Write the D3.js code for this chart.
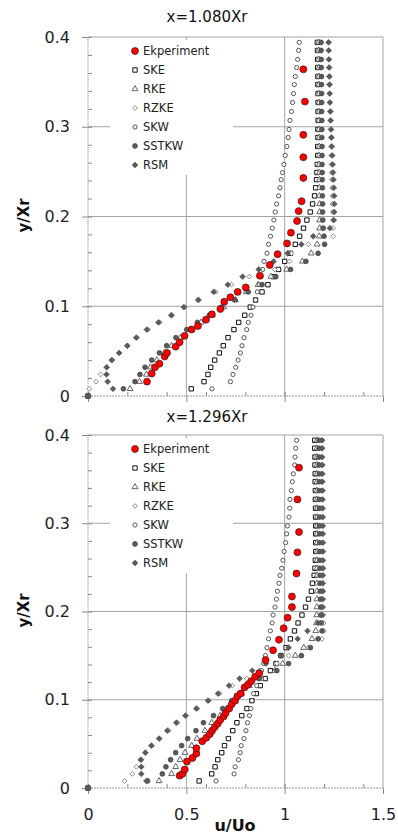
<!DOCTYPE html>
<html>
<head>
<meta charset="utf-8">
<script src="https://cdn.jsdelivr.net/npm/d3@7"></script>
<style>
  body { margin: 0; background: #fff; }
  svg { display: block; font-family: "DejaVu Sans", sans-serif; }
</style>
</head>
<body>
<svg id="chart" width="398" height="835"></svg>
<script>
// shared wall-normal positions of the simulation points (y/Xr)
const yGrid = [0, 0.008, 0.016, 0.024, 0.032, 0.040, 0.048, 0.056, 0.065, 0.074, 0.082, 0.090, 0.099, 0.107,
  0.116, 0.124, 0.133, 0.141, 0.150, 0.159, 0.169, 0.178, 0.187, 0.196, 0.205, 0.214, 0.223, 0.232, 0.241,
  0.249, 0.258, 0.268, 0.278, 0.288, 0.297, 0.307, 0.317, 0.327, 0.337, 0.347, 0.356, 0.366, 0.375, 0.385, 0.394];

const seriesNames = ["Ekperiment", "SKE", "RKE", "RZKE", "SKW", "SSTKW", "RSM"];
const titles = ["x=1.080Xr", "x=1.296Xr"];
const xTicks = [0, 0.5, 1, 1.5];
const yTicks = [0, 0.1, 0.2, 0.3, 0.4];

// ---- x = 1.080Xr ----
const exp1U = [0.300, 0.324, 0.341, 0.363, 0.390, 0.402, 0.446, 0.466, 0.491, 0.527, 0.559, 0.600, 0.630, 0.673,
  0.693, 0.724, 0.761, 0.802, 0.874, 0.924, 0.964, 1.012, 1.032, 1.063, 1.071, 1.086, 1.095, 1.095, 1.095, 1.103, 1.095];
const exp1Y = [0.016, 0.025, 0.032, 0.036, 0.044, 0.048, 0.055, 0.060, 0.067, 0.074, 0.078, 0.085, 0.091, 0.097,
  0.105, 0.110, 0.116, 0.121, 0.134, 0.146, 0.158, 0.170, 0.182, 0.195, 0.206, 0.217, 0.243, 0.266, 0.291, 0.328, 0.364];
const ske1 = [0, 0.525, 0.590, 0.610, 0.624, 0.644, 0.668, 0.688, 0.712, 0.742, 0.766, 0.797, 0.825, 0.852, 0.885,
  0.915, 0.944, 0.969, 1.000, 1.029, 1.054, 1.076, 1.096, 1.113, 1.130, 1.142, 1.152, 1.158, 1.162, 1.164, 1.166,
  1.168, 1.168, 1.169, 1.169, 1.170, 1.170, 1.170, 1.170, 1.169, 1.169, 1.168, 1.168, 1.167, 1.166];
const rke1 = [0, 0.214, 0.262, 0.297, 0.318, 0.350, 0.388, 0.425, 0.470, 0.520, 0.575, 0.632, 0.690, 0.750, 0.805,
  0.865, 0.930, 1.010, 1.090, 1.135, 1.165, 1.176, 1.178, 1.178, 1.178, 1.178, 1.177, 1.177, 1.177, 1.177, 1.176,
  1.176, 1.176, 1.176, 1.175, 1.175, 1.175, 1.175, 1.174, 1.174, 1.174, 1.174, 1.173, 1.173, 1.173];
const rzke1 = [0, 0.007, 0.041, 0.064, 0.095, 0.125, 0.160, 0.202, 0.250, 0.305, 0.365, 0.428, 0.492, 0.565, 0.650,
  0.729, 0.820, 0.950, 1.025, 1.034, 1.120, 1.247, 1.247, 1.245, 1.244, 1.243, 1.242, 1.241, 1.240, 1.239, 1.238,
  1.237, 1.236, 1.235, 1.234, 1.233, 1.232, 1.231, 1.230, 1.229, 1.228, 1.227, 1.226, 1.225, 1.224];
const skw1 = [0, 0.630, 0.724, 0.737, 0.751, 0.763, 0.775, 0.783, 0.793, 0.807, 0.815, 0.829, 0.839, 0.852, 0.861,
  0.872, 0.880, 0.888, 0.895, 0.910, 0.918, 0.928, 0.937, 0.945, 0.952, 0.959, 0.969, 0.976, 0.982, 0.989, 0.996,
  1.003, 1.011, 1.018, 1.022, 1.027, 1.035, 1.040, 1.045, 1.049, 1.054, 1.061, 1.066, 1.071, 1.074];
const sstkw1 = [0, 0.180, 0.239, 0.264, 0.290, 0.324, 0.363, 0.400, 0.447, 0.502, 0.556, 0.617, 0.680, 0.747, 0.815,
  0.885, 0.955, 1.030, 1.108, 1.170, 1.203, 1.200, 1.196, 1.194, 1.193, 1.193, 1.192, 1.192, 1.191, 1.191, 1.190,
  1.190, 1.190, 1.189, 1.189, 1.189, 1.188, 1.188, 1.188, 1.187, 1.187, 1.186, 1.186, 1.185, 1.185];
const rsm1 = [0, 0.127, 0.100, 0.094, 0.095, 0.120, 0.158, 0.199, 0.245, 0.299, 0.358, 0.423, 0.487, 0.560, 0.639,
  0.711, 0.786, 0.868, 0.944, 1.015, 1.085, 1.145, 1.230, 1.250, 1.252, 1.253, 1.252, 1.250, 1.248, 1.246, 1.244,
  1.242, 1.240, 1.238, 1.236, 1.234, 1.232, 1.230, 1.229, 1.228, 1.227, 1.226, 1.225, 1.224, 1.223];

// ---- x = 1.296Xr ----
const exp2U = [0.466, 0.480, 0.492, 0.503, 0.531, 0.551, 0.551, 0.581, 0.602, 0.619, 0.631, 0.645, 0.660, 0.672,
  0.690, 0.700, 0.718, 0.731, 0.748, 0.760, 0.777, 0.796, 0.813, 0.830, 0.850, 0.871, 0.903, 0.941, 0.971, 0.995,
  1.015, 1.037, 1.037, 1.060, 1.065, 1.073, 1.065, 1.073];
const exp2Y = [0.014, 0.016, 0.021, 0.030, 0.034, 0.039, 0.045, 0.053, 0.057, 0.061, 0.065, 0.069, 0.073, 0.077,
  0.081, 0.085, 0.090, 0.095, 0.099, 0.104, 0.107, 0.114, 0.117, 0.121, 0.126, 0.130, 0.145, 0.156, 0.168, 0.181,
  0.193, 0.205, 0.217, 0.243, 0.267, 0.290, 0.327, 0.363];
const ske2 = [0, 0.565, 0.629, 0.646, 0.660, 0.680, 0.694, 0.714, 0.736, 0.757, 0.782, 0.808, 0.833, 0.856, 0.876,
  0.901, 0.927, 0.956, 0.981, 1.007, 1.029, 1.050, 1.068, 1.088, 1.106, 1.121, 1.136, 1.141, 1.150, 1.154, 1.156,
  1.158, 1.158, 1.158, 1.158, 1.157, 1.157, 1.156, 1.156, 1.155, 1.155, 1.154, 1.154, 1.153, 1.153];
const rke2 = [0, 0.361, 0.425, 0.446, 0.468, 0.493, 0.527, 0.554, 0.595, 0.629, 0.672, 0.706, 0.748, 0.780, 0.820,
  0.880, 0.950, 0.990, 1.054, 1.097, 1.139, 1.158, 1.162, 1.163, 1.164, 1.164, 1.165, 1.165, 1.165, 1.165, 1.165,
  1.165, 1.165, 1.165, 1.165, 1.165, 1.165, 1.164, 1.164, 1.164, 1.164, 1.164, 1.164, 1.164, 1.164];
const rzke2 = [0, 0.186, 0.225, 0.246, 0.265, 0.290, 0.325, 0.365, 0.410, 0.455, 0.500, 0.556, 0.615, 0.669, 0.734,
  0.808, 0.870, 0.960, 1.020, 1.120, 1.190, 1.200, 1.198, 1.197, 1.196, 1.195, 1.195, 1.194, 1.194, 1.193, 1.193,
  1.192, 1.192, 1.191, 1.191, 1.190, 1.190, 1.189, 1.189, 1.188, 1.188, 1.187, 1.187, 1.186, 1.186];
const skw2 = [0, 0.651, 0.743, 0.748, 0.765, 0.774, 0.779, 0.793, 0.803, 0.811, 0.821, 0.828, 0.833, 0.842, 0.858,
  0.870, 0.882, 0.893, 0.902, 0.910, 0.918, 0.927, 0.936, 0.941, 0.951, 0.958, 0.963, 0.971, 0.976, 0.985, 0.991,
  0.997, 1.005, 1.010, 1.014, 1.022, 1.026, 1.027, 1.034, 1.039, 1.044, 1.051, 1.053, 1.056, 1.061];
const sstkw2 = [0, 0.303, 0.378, 0.396, 0.420, 0.446, 0.476, 0.507, 0.549, 0.587, 0.638, 0.685, 0.731, 0.770, 0.810,
  0.870, 0.960, 1.020, 1.085, 1.131, 1.170, 1.190, 1.186, 1.184, 1.183, 1.182, 1.181, 1.180, 1.180, 1.179, 1.179,
  1.178, 1.178, 1.178, 1.177, 1.177, 1.177, 1.176, 1.176, 1.176, 1.176, 1.175, 1.175, 1.175, 1.175];
const rsm2 = [0, 0.297, 0.271, 0.271, 0.270, 0.292, 0.322, 0.361, 0.403, 0.449, 0.495, 0.551, 0.610, 0.661, 0.717,
  0.771, 0.835, 0.905, 0.980, 1.020, 1.066, 1.116, 1.170, 1.190, 1.192, 1.193, 1.194, 1.194, 1.194, 1.195, 1.195,
  1.195, 1.195, 1.194, 1.194, 1.194, 1.193, 1.193, 1.193, 1.192, 1.192, 1.192, 1.191, 1.191, 1.191];

// marker look for each series
const markers = {
  Ekperiment: { shape: "circle", size: 38, fill: "#ff0000", stroke: "#3a1a1a", sw: 0.7 },
  SKE: { shape: "square", size: 19, fill: "#fff", stroke: "#111", sw: 1 },
  RKE: { shape: "triangle", size: 15, fill: "#fff", stroke: "#555", sw: 0.9 },
  RZKE: { shape: "diamond", r: 2.4, fill: "#fff", stroke: "#808080", sw: 0.9 },
  SKW: { shape: "circle", size: 14, fill: "#fff", stroke: "#555", sw: 1 },
  SSTKW: { shape: "circle", size: 18, fill: "#5a5a5a", stroke: "#444", sw: 0.8 },
  RSM: { shape: "diamond", r: 2.9, fill: "#5a5a5a", stroke: "#555", sw: 0.6 }
};
const symbolType = { circle: d3.symbolCircle, square: d3.symbolSquare, triangle: d3.symbolTriangle };

function markerPath(m) {
  if (m.shape === "diamond") return `M0,${-m.r}L${m.r},0L0,${m.r}L${-m.r},0Z`;
  return d3.symbol(symbolType[m.shape], m.size)();
}

const panels = [
  { top: 37, bottom: 396, titleY: 22, xLabels: false, exp: [exp1U, exp1Y],
    sim: { SKE: ske1, RKE: rke1, RZKE: rzke1, SKW: skw1, SSTKW: sstkw1, RSM: rsm1 } },
  { top: 435, bottom: 788, titleY: 422, xLabels: true, exp: [exp2U, exp2Y],
    sim: { SKE: ske2, RKE: rke2, RZKE: rzke2, SKW: skw2, SSTKW: sstkw2, RSM: rsm2 } }
];

const svg = d3.select("#chart");
const x = d3.scaleLinear().domain([0, 1.5]).range([88, 383]);
const gridColor = "#a3a3a3";

panels.forEach((p, k) => {
  const y = d3.scaleLinear().domain([0, 0.4]).range([p.bottom, p.top]);
  const g = svg.append("g");

  // gridlines
  g.selectAll(".hgrid").data(yTicks.filter(d => d > 0)).join("line").attr("class", "hgrid")
    .attr("x1", x(0)).attr("x2", x(1.5))
    .attr("y1", d => y(d)).attr("y2", d => y(d))
    .attr("stroke", gridColor).attr("stroke-width", 1);
  g.selectAll(".vgrid").data(xTicks.filter(d => d > 0)).join("line").attr("class", "vgrid")
    .attr("x1", d => x(d)).attr("x2", d => x(d))
    .attr("y1", y(0)).attr("y2", y(0.4))
    .attr("stroke", gridColor).attr("stroke-width", 1);

  // axis lines (dotted like the original)
  g.append("line").attr("x1", x(0)).attr("x2", x(0)).attr("y1", y(0)).attr("y2", y(0.4))
    .attr("stroke", "#8a8a8a").attr("stroke-dasharray", "1,1");
  g.append("line").attr("x1", x(0)).attr("x2", x(1.5)).attr("y1", y(0)).attr("y2", y(0))
    .attr("stroke", "#9a9a9a").attr("stroke-dasharray", "2,1");

  // y axis, major ticks + labels
  const ya = g.append("g").attr("transform", `translate(${x(0)},0)`)
    .call(d3.axisLeft(y).tickValues(yTicks).tickSize(6).tickPadding(12)
      .tickFormat(d => d === 0 ? "0" : d3.format(".1f")(d)));
  ya.select(".domain").remove();
  ya.attr("font-family", "DejaVu Sans, sans-serif").attr("font-size", 16);
  ya.selectAll("line").attr("stroke", "#8a8a8a");
  ya.selectAll("text").attr("fill", "#1e1e28");

  // y minor ticks (inside)
  const ym = g.append("g").attr("transform", `translate(${x(0)},0)`)
    .call(d3.axisRight(y).tickValues(d3.range(0, 0.401, 0.02)).tickSize(4).tickFormat(""));
  ym.select(".domain").remove();
  ym.selectAll("line").attr("stroke", "#8a8a8a");

  // x axis, major ticks (+ labels on the lower panel)
  const xa = g.append("g").attr("transform", `translate(0,${y(0)})`)
    .call(d3.axisBottom(x).tickValues(xTicks).tickSize(6).tickPadding(15)
      .tickFormat(p.xLabels ? (d => String(d)) : ""));
  xa.select(".domain").remove();
  xa.attr("font-family", "DejaVu Sans, sans-serif").attr("font-size", 16);
  xa.selectAll("line").attr("stroke", "#8a8a8a");
  xa.selectAll("text").attr("fill", "#1e1e28");

  // x minor ticks (inside)
  const xm = g.append("g").attr("transform", `translate(0,${y(0)})`)
    .call(d3.axisTop(x).tickValues(d3.range(0, 1.5, 0.2)).tickSize(4).tickFormat(""));
  xm.select(".domain").remove();
  xm.selectAll("line").attr("stroke", "#8a8a8a");

  // title
  g.append("text").attr("x", 207).attr("y", p.titleY).attr("text-anchor", "middle")
    .attr("font-size", 15).attr("fill", "#111").text(titles[k]);

  // y label
  g.append("text").attr("transform", `translate(29,${(p.top + p.bottom) / 2 - 1}) rotate(-90)`)
    .attr("text-anchor", "middle").attr("font-size", 15).attr("font-weight", "bold")
    .attr("fill", "#111").text("y/Xr");

  // legend box (white, hides gridlines behind it)
  g.append("rect").attr("x", 110).attr("y", p.top + 3).attr("width", 123).attr("height", 135)
    .attr("fill", "#fff");

  // simulation series
  ["SKE", "RKE", "RZKE", "SKW", "SSTKW", "RSM"].forEach(name => {
    const m = markers[name];
    const vals = p.sim[name];
    const pts = yGrid.map((v, i) => [vals[i], v]).filter(d => d[0] != null);
    g.append("g").selectAll("path").data(pts).join("path")
      .attr("transform", d => `translate(${x(d[0])},${y(d[1])})`)
      .attr("d", markerPath(m))
      .attr("fill", m.fill).attr("stroke", m.stroke).attr("stroke-width", m.sw);
  });

  // experiment on top
  const me = markers.Ekperiment;
  const expPts = p.exp[0].map((u, i) => [u, p.exp[1][i]]);
  g.append("g").selectAll("path").data(expPts).join("path")
    .attr("transform", d => `translate(${x(d[0])},${y(d[1])})`)
    .attr("d", markerPath(me))
    .attr("fill", me.fill).attr("stroke", me.stroke).attr("stroke-width", me.sw);

  // legend entries
  const leg = g.append("g");
  seriesNames.forEach((name, i) => {
    const m = markers[name];
    const ly = p.top + 14 + i * 19;
    leg.append("path").attr("transform", `translate(135,${ly})`).attr("d", markerPath(m))
      .attr("fill", m.fill).attr("stroke", m.stroke).attr("stroke-width", m.sw);
    leg.append("text").attr("x", 143).attr("y", ly).attr("dy", "0.36em")
      .attr("font-size", 11.5).attr("fill", "#222").text(name);
  });
});

// x axis label (bottom panel)
svg.append("text").attr("x", 235).attr("y", 831).attr("text-anchor", "middle")
  .attr("font-size", 16).attr("font-weight", "bold").attr("fill", "#111").text("u/Uo");
</script>
</body>
</html>
